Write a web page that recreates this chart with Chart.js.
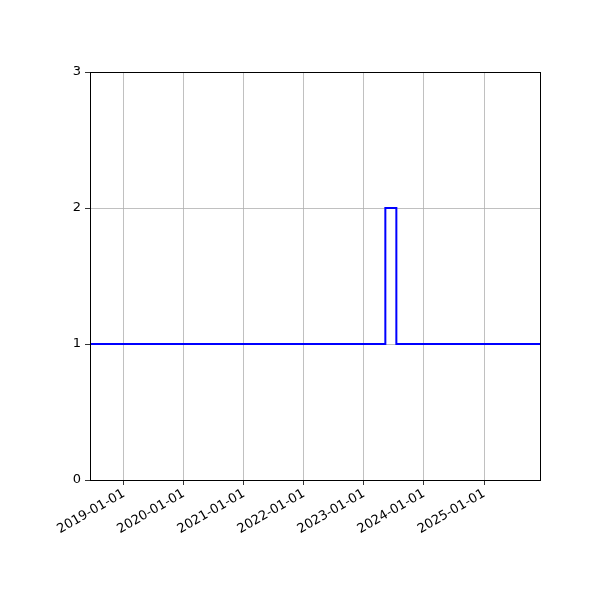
<!DOCTYPE html>
<html>
<head>
<meta charset="utf-8">
<script src="https://cdn.jsdelivr.net/npm/chart.js@4/dist/chart.umd.min.js"></script>
<style>
html,body{margin:0;padding:0;background:#fff;}
canvas{display:block;}
</style>
</head>
<body>
<canvas id="c" width="600" height="600"></canvas>
<script>
const dates = ['2018-06-09', '2023-05-11', '2023-07-17', '2025-12-07'];
const values = [1, 2, 1, 1];
const tickLabels = ['2019-01-01', '2020-01-01', '2021-01-01', '2022-01-01', '2023-01-01', '2024-01-01', '2025-01-01'];
const yTicks = [0, 1, 2, 3];
const xMin = '2018-06-09';
const xMax = '2025-12-07';

const toMs = s => Date.parse(s + 'T00:00:00Z');
const tickValues = tickLabels.map(toMs);

const framePlugin = {
  id: 'frame',
  afterDraw(chart) {
    const a = chart.chartArea, ctx = chart.ctx;
    ctx.save();
    ctx.strokeStyle = '#000';
    ctx.lineWidth = 1;
    ctx.strokeRect(Math.round(a.left) + 0.5, Math.round(a.top) + 0.5, Math.round(a.right - a.left), Math.round(a.bottom - a.top));
    ctx.restore();
  }
};

new Chart(document.getElementById('c'), {
  type: 'line',
  data: {
    datasets: [{
      data: dates.map((d, i) => ({x: toMs(d), y: values[i]})),
      borderColor: '#0000ff',
      borderWidth: 2,
      pointRadius: 0,
      stepped: 'before',
      fill: false
    }]
  },
  options: {
    responsive: false,
    animation: false,
    devicePixelRatio: 1,
    layout: {padding: {left: 0, right: 60, top: 72, bottom: 0}},
    plugins: {legend: {display: false}, tooltip: {enabled: false}},
    scales: {
      x: {
        type: 'linear',
        min: toMs(xMin),
        max: toMs(xMax),
        afterBuildTicks(scale) { scale.ticks = tickValues.map(v => ({value: v})); },
        afterFit(scale) { scale.height = 120; },
        ticks: {
          autoSkip: false,
          maxRotation: 30,
          minRotation: 30,
          color: '#000',
          padding: 1,
          font: {family: 'DejaVu Sans', size: 13},
          callback(v) { const i = tickValues.indexOf(v); return i >= 0 ? tickLabels[i] : ''; }
        },
        grid: {color: '#b0b0b0', lineWidth: 0.8, tickColor: '#000', tickLength: 5, drawTicks: true},
        border: {display: false}
      },
      y: {
        min: 0,
        max: 3,
        afterBuildTicks(scale) { scale.ticks = yTicks.map(v => ({value: v})); },
        afterFit(scale) { scale.width = 90; },
        ticks: {
          color: '#000',
          padding: 4,
          font: {family: 'DejaVu Sans', size: 13},
          callback(v) { return String(v); }
        },
        grid: {color: '#b0b0b0', lineWidth: 0.8, tickColor: '#000', tickLength: 5},
        border: {display: false}
      }
    }
  },
  plugins: [framePlugin]
});
</script>
</body>
</html>
